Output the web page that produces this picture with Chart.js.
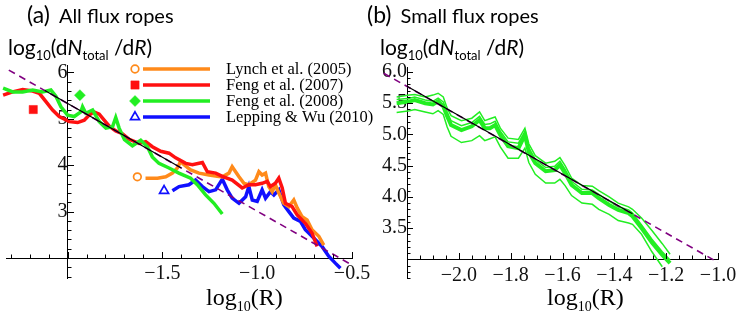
<!DOCTYPE html>
<html>
<head>
<meta charset="utf-8">
<script src="https://cdn.jsdelivr.net/npm/chart.js@4.4.0/dist/chart.umd.min.js"></script>
<style>
  html, body { margin: 0; padding: 0; background: #fff; }
  body { width: 737px; height: 321px; position: relative; overflow: hidden; font-family: Lato, sans-serif; color: #000; }
  .panel { position: absolute; top: 0; height: 321px; }
  #leftBox { left: 0; width: 385px; }
  #rightBox { left: 370px; width: 390px; }
  .title { position: absolute; top: 3px; font-size: 20px; line-height: 1; white-space: nowrap; }
  .title .tag { font-size: 23px; margin-right: 9px; }
  .ylab { position: absolute; top: 36px; font-size: 21px; line-height: 1; white-space: nowrap; }
  .ylab sub { font-size: 13px; line-height: 0; }
  .xlab { position: absolute; top: 285px; font-family: "Liberation Serif", serif; font-size: 24px; line-height: 1; white-space: nowrap; }
  .xlab sub { font-size: 14px; line-height: 0; }
</style>
</head>
<body>
<div class="panel" id="leftBox"><canvas id="leftChart" width="385" height="321"></canvas></div>
<div class="panel" id="rightBox"><canvas id="rightChart" width="390" height="321"></canvas></div>

<div class="title" style="left:27px"><span class="tag">(a)</span>All flux ropes</div>
<div class="title" style="left:367px"><span class="tag">(b)</span>Small flux ropes</div>
<div class="ylab" style="left:8px">log<sub>10</sub>(d<i>N</i><sub>total</sub> /d<i>R</i>)</div>
<div class="ylab" style="left:380px">log<sub>10</sub>(d<i>N</i><sub>total</sub> /d<i>R</i>)</div>
<div class="xlab" style="left:206px">log<sub>10</sub>(R)</div>
<div class="xlab" style="left:547px">log<sub>10</sub>(R)</div>

<script>
// Panel (a): log10(R) vs log10(dN/dR) for each study
const lynchX = [-1.589, -1.526, -1.482, -1.447, -1.421, -1.404, -1.386, -1.351, -1.307, -1.254, -1.211, -1.184, -1.149, -1.132, -1.114, -1.096, -1.07, -1.044, -1.009, -0.991, -0.974, -0.956, -0.939, -0.921, -0.904, -0.886, -0.86, -0.833, -0.807, -0.789, -0.763, -0.737, -0.711, -0.675, -0.649];
const lynchY = [3.72, 3.72, 3.75, 3.83, 3.94, 4.08, 4.01, 3.90, 3.83, 3.79, 3.76, 3.75, 3.83, 3.97, 3.86, 3.75, 3.61, 3.58, 3.68, 3.86, 3.79, 3.83, 3.54, 3.43, 3.58, 3.40, 3.18, 3.11, 3.25, 3.08, 2.89, 2.82, 2.61, 2.47, 2.28];

const feng07X = [-2.34, -2.29, -2.237, -2.184, -2.149, -2.114, -2.079, -2.044, -1.991, -1.947, -1.912, -1.886, -1.86, -1.833, -1.807, -1.78, -1.746, -1.711, -1.675, -1.623, -1.588, -1.553, -1.509, -1.465, -1.43, -1.377, -1.342, -1.289, -1.263, -1.219, -1.184, -1.132, -1.079, -1.044, -1.009, -0.974, -0.947, -0.93, -0.904, -0.886, -0.868, -0.851, -0.816, -0.789, -0.746, -0.711, -0.684];
const feng07Y = [5.51, 5.58, 5.63, 5.60, 5.55, 5.37, 5.19, 5.05, 4.94, 4.92, 4.97, 5.08, 5.15, 5.10, 4.97, 4.84, 4.74, 4.68, 4.56, 4.47, 4.51, 4.40, 4.30, 4.26, 4.16, 4.04, 4.01, 4.06, 3.86, 3.83, 3.76, 3.68, 3.51, 3.58, 3.58, 3.61, 3.65, 3.54, 3.61, 3.72, 3.51, 3.18, 3.11, 2.93, 2.75, 2.54, 2.25];

const feng08X = [-2.34, -2.289, -2.237, -2.184, -2.132, -2.088, -2.061, -2.035, -2.0, -1.965, -1.93, -1.921, -1.904, -1.868, -1.833, -1.798, -1.763, -1.746, -1.728, -1.70, -1.658, -1.614, -1.579, -1.553, -1.518, -1.465, -1.413, -1.351, -1.316, -1.272, -1.228, -1.184];
const feng08Y = [5.66, 5.58, 5.58, 5.62, 5.58, 5.62, 5.48, 5.26, 5.08, 5.05, 5.15, 5.26, 5.12, 5.19, 4.94, 4.80, 4.83, 5.03, 4.80, 4.55, 4.42, 4.54, 4.40, 4.18, 4.04, 3.94, 3.83, 3.72, 3.58, 3.36, 3.18, 2.95];

const leppingX = [-1.447, -1.412, -1.36, -1.325, -1.289, -1.254, -1.219, -1.184, -1.158, -1.132, -1.096, -1.061, -1.044, -1.026, -1.0, -0.974, -0.956, -0.93, -0.912, -0.886, -0.86, -0.833, -0.807, -0.772, -0.746, -0.711, -0.658, -0.623, -0.588, -0.561];
const leppingY = [3.45, 3.54, 3.58, 3.68, 3.54, 3.43, 3.47, 3.70, 3.47, 3.29, 3.18, 3.32, 3.54, 3.25, 3.22, 3.47, 3.29, 3.43, 3.36, 3.47, 3.15, 3.0, 2.86, 2.79, 2.61, 2.47, 2.25, 2.04, 1.89, 1.78];

// single published points (marker only), one per study
const markerX = [-1.632, -2.181, -1.935, -1.491];
const markerY = [3.75, 5.20, 5.51, 3.45];

const fitAX = [-2.31, -0.5];
const fitAY = [6.05, 1.85];
const blackAX = [-2.12, -1.40];
const blackAY = [5.61, 3.94];

// Panel (b): small flux ropes, central estimate plus spread curves
const smallX = [-2.29, -2.24, -2.19, -2.17, -2.13, -2.10, -2.08, -2.06, -2.045, -2.03, -1.99, -1.95, -1.92, -1.90, -1.88, -1.86, -1.84, -1.81, -1.77, -1.745, -1.73, -1.705, -1.665, -1.63, -1.61, -1.59, -1.565, -1.525, -1.485, -1.46, -1.42, -1.385, -1.345, -1.33, -1.295, -1.255, -1.215, -1.185];
const smallMid = [5.52, 5.50, 5.53, 5.55, 5.50, 5.48, 5.53, 5.45, 5.29, 5.15, 5.07, 5.13, 5.23, 5.10, 5.10, 5.15, 4.99, 4.81, 4.78, 4.99, 4.72, 4.54, 4.41, 4.43, 4.51, 4.38, 4.19, 4.06, 4.06, 3.98, 3.87, 3.79, 3.74, 3.69, 3.50, 3.27, 3.07, 2.94];
const smallHi2 = [5.70, 5.60, 5.63, 5.64, 5.60, 5.63, 5.66, 5.60, 5.42, 5.30, 5.22, 5.26, 5.36, 5.22, 5.25, 5.28, 5.10, 4.94, 4.92, 5.10, 4.85, 4.66, 4.54, 4.57, 4.63, 4.50, 4.30, 4.18, 4.17, 4.10, 4.00, 3.90, 3.84, 3.80, 3.66, 3.46, 3.25, 3.08];
const smallHi1 = [5.60, 5.56, 5.58, 5.60, 5.55, 5.53, 5.58, 5.52, 5.36, 5.22, 5.14, 5.19, 5.29, 5.16, 5.17, 5.21, 5.05, 4.88, 4.86, 5.05, 4.79, 4.60, 4.47, 4.49, 4.57, 4.44, 4.25, 4.12, 4.11, 4.04, 3.93, 3.84, 3.79, 3.74, 3.55, 3.32, 3.12, 2.99];
const smallLo = [5.31, 5.35, 5.38, 5.40, 5.36, 5.33, 5.38, 5.32, 5.12, 4.97, 4.87, 4.90, 4.98, 4.90, 4.93, 4.96, 4.80, 4.62, 4.62, 4.78, 4.55, 4.36, 4.22, 4.22, 4.28, 4.18, 4.02, 3.90, 3.88, 3.80, 3.72, 3.62, 3.58, 3.56, 3.40, 3.12, 2.88, null];

const fitBX = [-2.29, -1.0];
const fitBY = [5.98, 2.95];
const blackBX = [-2.2, -1.33];
const blackBY = [5.77, 3.73];

// legend / series styling
const legendNames = ["Lynch et al. (2005)", "Feng et al. (2007)", "Feng et al. (2008)", "Lepping & Wu (2010)"];
const seriesColors = ["#ff8a1a", "#ff1010", "#22ee22", "#1010ff"];
const markerStyles = ["circle", "rect", "rectRot", "triangle"];
const markerFilled = [false, true, true, false];
const markerRadius = [3.8, 5.8, 5.5, 5.2];

// tick labels
const aXLabels = [-1.5, -1.0, -0.5];
const aYLabels = [3, 4, 5, 6];
const bXLabels = [-2.0, -1.8, -1.6, -1.4, -1.2, -1.0];
const bYLabels = [3.5, 4.0, 4.5, 5.0, 5.5, 6.0];

function range(a, b, step) {
    const out = [];
    const n = Math.round((b - a) / step);
    for (let i = 0; i <= n; i++) out.push(+(a + i * step).toFixed(4));
    return out;
}

function pts(xs, ys) {
    return xs.map((x, i) => ({ x, y: ys[i] })).filter(p => p.y !== null);
}

function fmt(digits) {
    return v => (v < 0 ? "\u2212" : "") + Math.abs(v).toFixed(digits);
}

function curve(xs, ys, color, width, order, dash) {
    return {
        data: pts(xs, ys),
        showLine: true,
        borderColor: color,
        borderWidth: width,
        borderDash: dash || [],
        pointRadius: 0,
        tension: 0,
        clip: false,
        order
    };
}

const has = (arr, v) => arr.some(m => Math.abs(m - v) < 1e-6);

// Mathematica-like inward tick marks
const inwardTicks = {
    id: "inwardTicks",
    afterDraw(chart, args, o) {
        const { ctx } = chart;
        const xs = chart.scales.x, ys = chart.scales.y;
        const ax = xs.getPixelForValue(o.xCross);
        const ay = ys.getPixelForValue(o.yCross);
        ctx.save();
        ctx.strokeStyle = "#000";
        ctx.lineWidth = 1;
        ctx.beginPath();
        o.xMinor.forEach(v => {
            const p = Math.round(xs.getPixelForValue(v)) + 0.5;
            const len = has(o.xMajor, v) ? 6 : 3.5;
            ctx.moveTo(p, Math.round(ay));
            ctx.lineTo(p, Math.round(ay) - len);
        });
        o.yMinor.forEach(v => {
            const p = Math.round(ys.getPixelForValue(v)) + 0.5;
            const len = has(o.yMajor, v) ? 6 : 3.5;
            ctx.moveTo(Math.round(ax), p);
            ctx.lineTo(Math.round(ax) + len, p);
        });
        ctx.stroke();
        ctx.restore();
    }
};

// legend of panel (a)
const fluxLegend = {
    id: "fluxLegend",
    afterDraw(chart, args, o) {
        if (!o.show) return;
        const ctx = chart.ctx;
        legendNames.forEach((name, i) => {
            const yy = o.top + i * o.gap;
            ctx.save();
            ctx.strokeStyle = seriesColors[i];
            ctx.lineWidth = 3.5;
            ctx.beginPath();
            ctx.moveTo(o.lineStart, yy);
            ctx.lineTo(o.lineEnd, yy);
            ctx.stroke();
            ctx.fillStyle = markerFilled[i] ? seriesColors[i] : "#fff";
            ctx.strokeStyle = seriesColors[i];
            ctx.lineWidth = markerFilled[i] ? 0.5 : 1.7;
            Chart.helpers.drawPoint(ctx, { pointStyle: markerStyles[i], radius: markerRadius[i], borderWidth: ctx.lineWidth, rotation: 0 }, o.markerX, yy);
            ctx.fillStyle = "#000";
            ctx.font = '16.5px "Liberation Serif"';
            ctx.textBaseline = "middle";
            ctx.fillText(name, o.textX, yy + 1);
            ctx.restore();
        });
    }
};

function axis(min, max, cross, labels, digits, padding) {
    return {
        type: "linear",
        min, max,
        position: cross,
        grid: { display: false, drawTicks: false },
        border: { display: true, color: "#000", width: 1 },
        afterBuildTicks: scale => { scale.ticks = labels.map(v => ({ value: v })); },
        ticks: {
            autoSkip: false,
            maxRotation: 0,
            padding,
            color: "#111",
            font: { family: "Liberation Serif", size: 20 },
            callback: fmt(digits)
        }
    };
}

const markerSets = markerX.map((x, i) => ({
    data: [{ x, y: markerY[i] }],
    pointStyle: markerStyles[i],
    pointRadius: markerRadius[i],
    pointBorderWidth: markerFilled[i] ? 0.5 : 1.7,
    pointBorderColor: seriesColors[i],
    pointBackgroundColor: markerFilled[i] ? seriesColors[i] : "#fff",
    showLine: false,
    clip: false,
    order: 2
}));

new Chart(document.getElementById("leftChart"), {
    type: "scatter",
    data: {
        datasets: [
            curve(blackAX, blackAY, "#000", 1.2, 0),
            curve(fitAX, fitAY, "#800080", 1.6, 1, [7, 5]),
            ...markerSets,
            curve(feng08X, feng08Y, seriesColors[2], 3.5, 3),
            curve(feng07X, feng07Y, seriesColors[1], 3.5, 4),
            curve(lynchX, lynchY, seriesColors[0], 3.5, 5),
            curve(leppingX, leppingY, seriesColors[3], 3.5, 6)
        ]
    },
    options: {
        responsive: false,
        animation: false,
        devicePixelRatio: 1,
        layout: { padding: { left: 4, right: 33, top: 65, bottom: 43 } },
        scales: {
            x: axis(-2.32, -0.5, { y: 2 }, aXLabels, 1, 4),
            y: axis(1.57, 6.16, { x: -2 }, aYLabels, 0, 9)
        },
        plugins: {
            legend: { display: false },
            tooltip: { enabled: false },
            inwardTicks: {
                xCross: -2, yCross: 2,
                xMinor: range(-2.3, -0.5, 0.1), xMajor: [-2.0, -1.5, -1.0, -0.5],
                yMinor: range(1.6, 6.0, 0.2), yMajor: [2, 3, 4, 5, 6]
            },
            fluxLegend: { show: true, top: 69, gap: 16, markerX: 135, lineStart: 143, lineEnd: 210, textX: 226 }
        }
    },
    plugins: [inwardTicks, fluxLegend]
});

const green = seriesColors[2];
new Chart(document.getElementById("rightChart"), {
    type: "scatter",
    data: {
        datasets: [
            curve(blackBX, blackBY, "#000", 1.2, 0),
            curve(fitBX, fitBY, "#800080", 1.6, 1, [7, 5]),
            curve(smallX, smallMid, green, 4, 2),
            curve(smallX, smallHi1, green, 1.5, 3),
            curve(smallX, smallHi2, green, 1.5, 4),
            curve(smallX, smallLo, green, 1.5, 5)
        ]
    },
    options: {
        responsive: false,
        animation: false,
        devicePixelRatio: 1,
        layout: { padding: { left: 37, right: 42, top: 67, bottom: 43 } },
        scales: {
            x: axis(-2.2, -1.0, { y: 3 }, bXLabels, 1, 4),
            y: axis(2.7, 6.08, { x: -2.2 }, bYLabels, 1, 5)
        },
        plugins: {
            legend: { display: false },
            tooltip: { enabled: false },
            inwardTicks: {
                xCross: -2.2, yCross: 3,
                xMinor: range(-2.2, -1.0, 0.05), xMajor: [-2.2, -2.0, -1.8, -1.6, -1.4, -1.2, -1.0],
                yMinor: range(2.7, 6.0, 0.1), yMajor: [3.0, 3.5, 4.0, 4.5, 5.0, 5.5, 6.0]
            },
            fluxLegend: { show: false }
        }
    },
    plugins: [inwardTicks, fluxLegend]
});
</script>
</body>
</html>
